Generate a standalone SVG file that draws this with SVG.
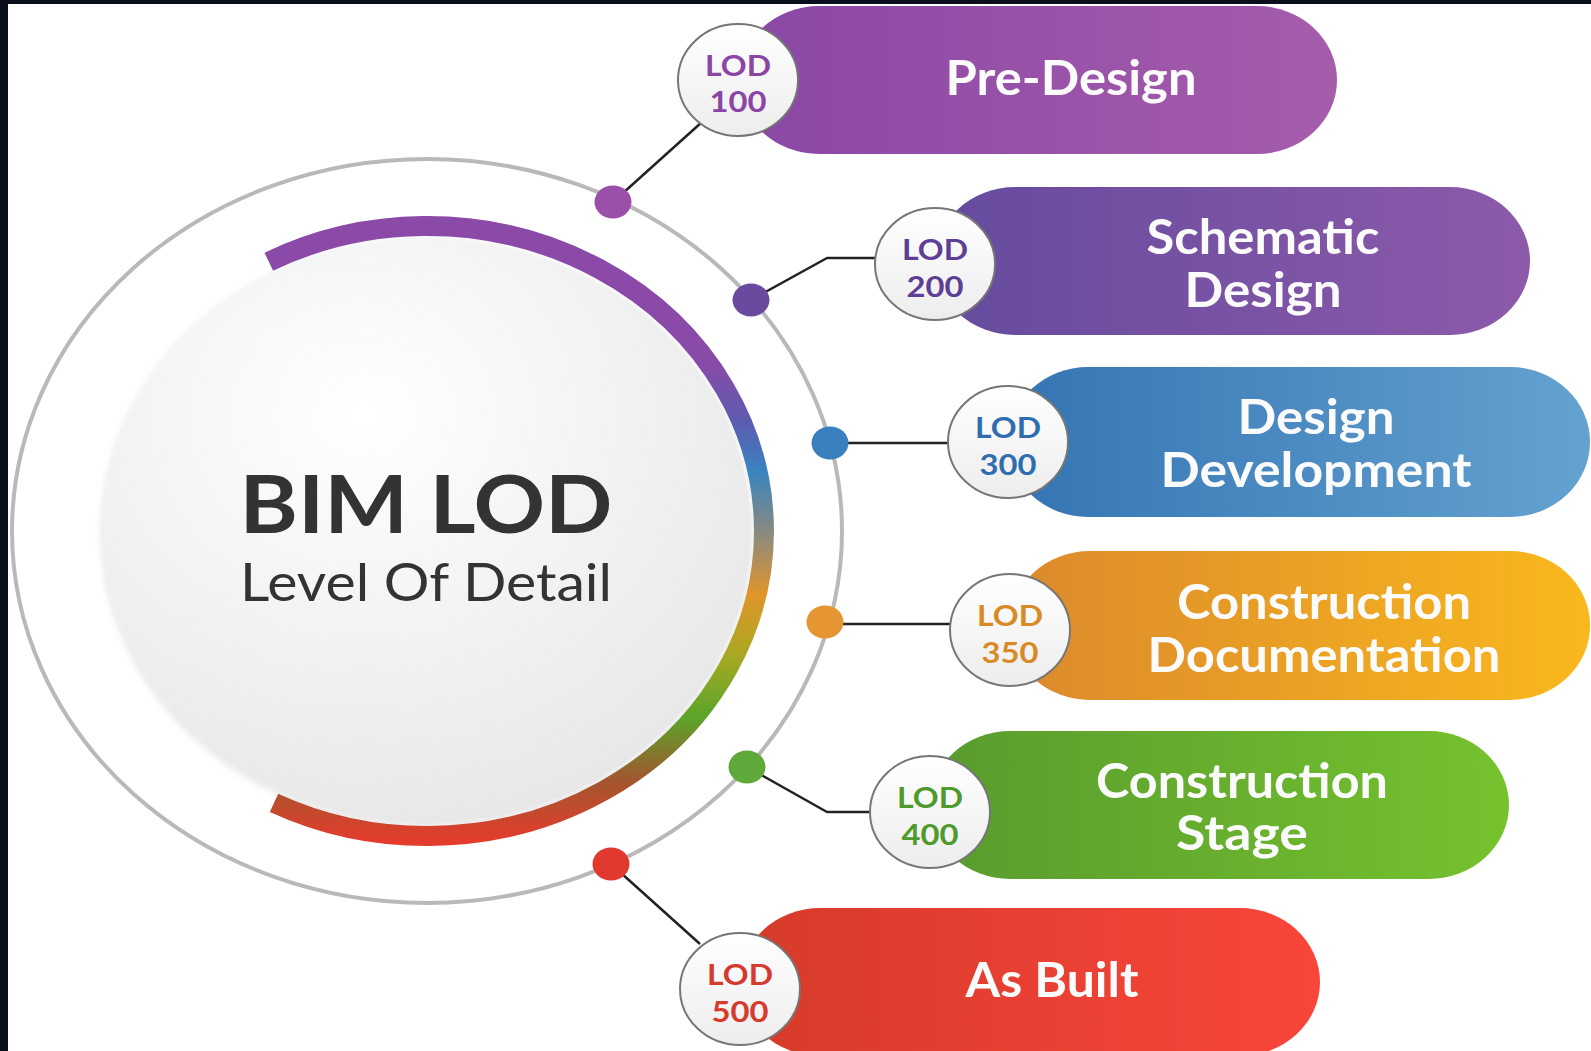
<svg xmlns="http://www.w3.org/2000/svg" width="1591" height="1051" viewBox="0 0 1591 1051">
  <style>
    .ttl { font-family: Lato, 'Liberation Sans', sans-serif; fill: #333333; text-anchor: middle; }
    .pt { font-family: Lato, 'Liberation Sans', sans-serif; font-weight: 700; font-size: 47px; fill: #fbfbfb; text-anchor: middle; }
    .lt { font-family: Lato, 'Liberation Sans', sans-serif; font-weight: 700; font-size: 28px; text-anchor: middle; }
    .lodc { fill: url(#lodFill); stroke: #767676; stroke-width: 2; }
    .con { fill: none; stroke: #222222; stroke-width: 2.5; stroke-linejoin: round; }
  </style>
  <defs>
    <linearGradient id="gPre" x1="0" y1="0" x2="1" y2="0"><stop offset="0" stop-color="#8a47a5"/><stop offset="1" stop-color="#a55dab"/></linearGradient>
    <linearGradient id="gSch" x1="0" y1="0" x2="1" y2="0"><stop offset="0" stop-color="#654b9e"/><stop offset="1" stop-color="#8d5aaa"/></linearGradient>
    <linearGradient id="gDev" x1="0" y1="0" x2="1" y2="0"><stop offset="0" stop-color="#3474b3"/><stop offset="1" stop-color="#64a2d0"/></linearGradient>
    <linearGradient id="gDoc" x1="0" y1="0" x2="1" y2="0"><stop offset="0" stop-color="#db892c"/><stop offset="1" stop-color="#f9b81d"/></linearGradient>
    <linearGradient id="gSta" x1="0" y1="0" x2="1" y2="0"><stop offset="0" stop-color="#589b2e"/><stop offset="1" stop-color="#76c22e"/></linearGradient>
    <linearGradient id="gBui" x1="0" y1="0" x2="1" y2="0"><stop offset="0" stop-color="#d63b2a"/><stop offset="1" stop-color="#f9453a"/></linearGradient>
    <linearGradient id="lodFill" x1="0" y1="0" x2="0" y2="1"><stop offset="0" stop-color="#ffffff"/><stop offset="1" stop-color="#ededed"/></linearGradient>
    <radialGradient id="discFill" cx="0.4" cy="0.3" r="0.8"><stop offset="0" stop-color="#ffffff"/><stop offset="1" stop-color="#e5e5e5"/></radialGradient>
    <linearGradient id="arcGrad" gradientUnits="userSpaceOnUse" x1="0" y1="226" x2="0" y2="840">
      <stop offset="0" stop-color="#8b49a8"/>
      <stop offset="0.22" stop-color="#8a4aa8"/>
      <stop offset="0.32" stop-color="#5c5cb0"/>
      <stop offset="0.4" stop-color="#3a84c0"/>
      <stop offset="0.5" stop-color="#8a8a80"/>
      <stop offset="0.6" stop-color="#e0952a"/>
      <stop offset="0.7" stop-color="#a8a822"/>
      <stop offset="0.8" stop-color="#5aa52a"/>
      <stop offset="0.9" stop-color="#a0582e"/>
      <stop offset="1" stop-color="#e33c2c"/>
    </linearGradient>
    <filter id="soft" x="-10%" y="-10%" width="120%" height="120%">
      <feGaussianBlur in="SourceAlpha" stdDeviation="5"/>
      <feOffset dx="0" dy="2" result="b"/>
      <feComponentTransfer><feFuncA type="linear" slope="0.14"/></feComponentTransfer>
      <feMerge><feMergeNode/><feMergeNode in="SourceGraphic"/></feMerge>
    </filter>
  </defs>

  <rect x="0" y="0" width="1591" height="1051" fill="#0b0f1b"/>
  <rect x="8" y="4" width="1583" height="1047" fill="#ffffff"/>

  <g id="hub">
    <ellipse cx="427" cy="531" rx="415" ry="372" fill="none" stroke="#b9b9b9" stroke-width="4"/>
    <ellipse cx="427" cy="531" rx="324" ry="292" fill="url(#discFill)" filter="url(#soft)"/>
    <path d="M 268.8 261.7 A 337 305 0 1 1 274 802.8" fill="none" stroke="url(#arcGrad)" stroke-width="20"/>
    <text class="ttl" x="426" y="533" font-size="80" font-weight="700" textLength="373" lengthAdjust="spacingAndGlyphs">BIM LOD</text>
    <text class="ttl" x="426" y="601" font-size="52" font-weight="400" textLength="372" lengthAdjust="spacingAndGlyphs">Level Of Detail</text>
  </g>

  <g id="connectors">
    <path class="con" d="M 613 202 L 702 122"/>
    <path class="con" d="M 751 300 L 827 258 L 876 258"/>
    <path class="con" d="M 830 443 L 950 443"/>
    <path class="con" d="M 825 624 L 952 624"/>
    <path class="con" d="M 747 767 L 827 812 L 871 812"/>
    <path class="con" d="M 611 864 L 700 944"/>
    <ellipse cx="613" cy="202" rx="18.5" ry="16.5" fill="#9a50a8"/>
    <ellipse cx="751" cy="300" rx="18.5" ry="16.5" fill="#6a4a9e"/>
    <ellipse cx="830" cy="443" rx="18.5" ry="16.5" fill="#3a80bf"/>
    <ellipse cx="825" cy="622" rx="18.5" ry="16.5" fill="#e59532"/>
    <ellipse cx="747" cy="767" rx="18.5" ry="16.5" fill="#5fa83a"/>
    <ellipse cx="611" cy="864" rx="18.5" ry="16.5" fill="#e0392e"/>
  </g>

  <g id="node-lod100">
    <rect x="739" y="6" width="598" height="148" rx="80" ry="74" fill="url(#gPre)"/>
    <text class="pt" x="1071" y="95" textLength="251" lengthAdjust="spacingAndGlyphs">Pre-Design</text>
    <ellipse class="lodc" cx="738" cy="80" rx="60" ry="56"/>
    <text class="lt" x="738" y="76" fill="#8a45a5" textLength="66" lengthAdjust="spacingAndGlyphs">LOD</text>
    <text class="lt" x="738" y="112" fill="#8a45a5" textLength="57" lengthAdjust="spacingAndGlyphs">100</text>
  </g>

  <g id="node-lod200">
    <rect x="935" y="187" width="595" height="148" rx="80" ry="74" fill="url(#gSch)"/>
    <text class="pt" x="1263" y="254" textLength="233" lengthAdjust="spacingAndGlyphs">Schematic</text>
    <text class="pt" x="1263" y="307" textLength="157" lengthAdjust="spacingAndGlyphs">Design</text>
    <ellipse class="lodc" cx="935" cy="264" rx="60" ry="56"/>
    <text class="lt" x="935" y="260" fill="#5e3f95" textLength="66" lengthAdjust="spacingAndGlyphs">LOD</text>
    <text class="lt" x="935" y="297" fill="#5e3f95" textLength="57" lengthAdjust="spacingAndGlyphs">200</text>
  </g>

  <g id="node-lod300">
    <rect x="1008" y="367" width="582" height="150" rx="80" ry="75" fill="url(#gDev)"/>
    <text class="pt" x="1316" y="434" textLength="157" lengthAdjust="spacingAndGlyphs">Design</text>
    <text class="pt" x="1316" y="487" textLength="311" lengthAdjust="spacingAndGlyphs">Development</text>
    <ellipse class="lodc" cx="1008" cy="442" rx="60" ry="56"/>
    <text class="lt" x="1008" y="438" fill="#2f6eae" textLength="66" lengthAdjust="spacingAndGlyphs">LOD</text>
    <text class="lt" x="1008" y="475" fill="#2f6eae" textLength="57" lengthAdjust="spacingAndGlyphs">300</text>
  </g>

  <g id="node-lod350">
    <rect x="1010" y="551" width="580" height="149" rx="80" ry="74" fill="url(#gDoc)"/>
    <text class="pt" x="1324" y="619" textLength="294" lengthAdjust="spacingAndGlyphs">Construction</text>
    <text class="pt" x="1324" y="672" textLength="353" lengthAdjust="spacingAndGlyphs">Documentation</text>
    <ellipse class="lodc" cx="1010" cy="630" rx="60" ry="56"/>
    <text class="lt" x="1010" y="626" fill="#d88a25" textLength="66" lengthAdjust="spacingAndGlyphs">LOD</text>
    <text class="lt" x="1010" y="663" fill="#d88a25" textLength="57" lengthAdjust="spacingAndGlyphs">350</text>
  </g>

  <g id="node-lod400">
    <rect x="930" y="731" width="579" height="148" rx="80" ry="74" fill="url(#gSta)"/>
    <text class="pt" x="1242" y="798" textLength="292" lengthAdjust="spacingAndGlyphs">Construction</text>
    <text class="pt" x="1242" y="850" textLength="132" lengthAdjust="spacingAndGlyphs">Stage</text>
    <ellipse class="lodc" cx="930" cy="812" rx="60" ry="56"/>
    <text class="lt" x="930" y="808" fill="#4e9a2c" textLength="66" lengthAdjust="spacingAndGlyphs">LOD</text>
    <text class="lt" x="930" y="845" fill="#4e9a2c" textLength="57" lengthAdjust="spacingAndGlyphs">400</text>
  </g>

  <g id="node-lod500">
    <rect x="740" y="908" width="580" height="148" rx="80" ry="74" fill="url(#gBui)"/>
    <text class="pt" x="1052" y="997" textLength="173" lengthAdjust="spacingAndGlyphs">As Built</text>
    <ellipse class="lodc" cx="740" cy="989" rx="60" ry="56"/>
    <text class="lt" x="740" y="985" fill="#d63a2c" textLength="66" lengthAdjust="spacingAndGlyphs">LOD</text>
    <text class="lt" x="740" y="1022" fill="#d63a2c" textLength="57" lengthAdjust="spacingAndGlyphs">500</text>
  </g>
</svg>
